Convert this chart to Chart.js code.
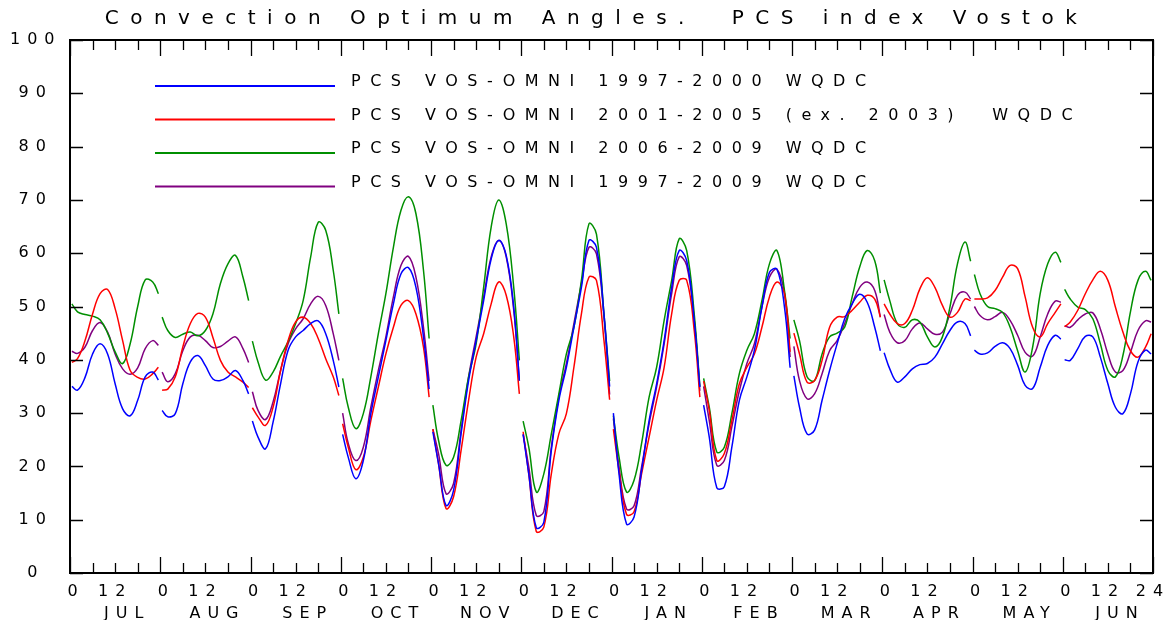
<!DOCTYPE html>
<html lang="en">
<head>
<meta charset="UTF-8">
<title>Convection Optimum Angles. PCS index Vostok</title>
<script src="https://cdn.jsdelivr.net/npm/chart.js"></script>
<style>
    body { margin: 0; background: #ffffff; }
    canvas { display: block; }
</style>
</head>
<body>
<canvas id="pcsChart" width="1173" height="620"></canvas>
<script>
// hours inside each month where the curve was read (UT hour)
const hours = [0.5, 2, 4, 6, 8, 10, 12, 14, 16, 18, 20, 22, 23.5];
const months = ['JUL', 'AUG', 'SEP', 'OCT', 'NOV', 'DEC', 'JAN', 'FEB', 'MAR', 'APR', 'MAY', 'JUN'];
const seriesNames = [
    'PCS VOS-OMNI 1997-2000 WQDC',
    'PCS VOS-OMNI 2001-2005 (ex. 2003)  WQDC',
    'PCS VOS-OMNI 2006-2009 WQDC',
    'PCS VOS-OMNI 1997-2009 WQDC'
];
const seriesColors = ['#0000ff', '#ff0000', '#008f00', '#800080'];

// one row per month, values at the hours above
const pcs1997_2000 = [
    [35, 34.3, 36.7, 41.1, 43, 41.1, 35.5, 30.8, 29.5, 32.4, 36.8, 37.7, 36.2],
    [30.5, 29.3, 29.9, 35.5, 39.6, 40.8, 38.9, 36.4, 36.1, 36.8, 38, 36.1, 33.6],
    [28.5, 25.5, 23.3, 28.3, 35.5, 41.8, 44.3, 45.5, 46.8, 47.3, 44.9, 39.9, 34.9],
    [26, 21.7, 17.7, 21.1, 29.9, 36.8, 43.6, 50.5, 56.1, 57.3, 53.6, 44.3, 34.5],
    [26.5, 20.5, 12.7, 15.5, 26.1, 36.1, 43.6, 51.1, 58.9, 62.4, 59.6, 49.9, 36.1],
    [26, 18.6, 8.5, 9.5, 23, 32.4, 38.6, 46.1, 53.6, 62.4, 61.1, 48.6, 35],
    [30, 18.6, 9.2, 10.5, 19.2, 28.6, 35.5, 43.6, 53.6, 60.5, 58.6, 47.4, 34.9],
    [31.5, 25.5, 16, 16.2, 23.6, 32.4, 36.8, 41.8, 49.9, 56.4, 57, 49.9, 38.5],
    [37, 31.1, 26.1, 26.8, 32.4, 38, 43, 47.7, 50.5, 52.3, 50.8, 46.1, 41.7],
    [41.3, 38.3, 35.8, 36.8, 38.3, 39.1, 39.3, 40.5, 43, 45.5, 47.1, 46.8, 44.5],
    [41.8, 41.1, 41.3, 42.5, 43.2, 42.1, 39, 35.2, 34.6, 38.6, 42.7, 44.6, 43.9],
    [40, 39.9, 42.1, 44.4, 44.3, 40.5, 35.5, 31.1, 29.9, 33.6, 39.6, 41.8, 41.1]
];
const pcs2001_2005 = [
    [39.5, 40.2, 43.6, 48.6, 52.4, 53.2, 49.6, 43.6, 38, 36.7, 36.4, 37.4, 38.6],
    [34.3, 34.5, 36.8, 42.4, 46.8, 48.7, 48, 44.2, 39.9, 37.7, 36.8, 35.8, 34.8],
    [31, 29.3, 27.7, 31.1, 38, 43.6, 47.1, 48, 46.8, 44, 40.2, 36.8, 33.3],
    [28, 23.6, 19.4, 21.7, 28.6, 34.9, 41.1, 46.1, 50.2, 51.1, 48.6, 42.4, 33],
    [27, 20.5, 12.1, 14.3, 23, 32.4, 40.5, 44.9, 50.5, 54.6, 52.1, 44.3, 33.6],
    [26.5, 18.6, 7.8, 8.6, 18.6, 26.1, 29.9, 38.6, 48.6, 55.5, 54.9, 43.6, 32.5],
    [27, 19.2, 11, 11.5, 18.6, 25.5, 32.4, 38.6, 48.6, 54.9, 54.9, 45.5, 33],
    [36, 30.5, 21.1, 22.4, 28.6, 35.5, 38.6, 41.1, 46.1, 51.8, 54.6, 52.4, 41.5],
    [45, 41.1, 35.8, 36.1, 39.9, 46.1, 48, 48.1, 49.3, 50.8, 52.1, 51.4, 48],
    [50.5, 48.6, 46.8, 46.8, 49.3, 53.3, 55.4, 53.6, 50.2, 48, 48.9, 51.4, 51.1],
    [51.4, 51.4, 51.6, 53, 55.5, 57.7, 57.1, 51.8, 46.1, 44.3, 46.8, 48.9, 50.5],
    [46.2, 47.1, 49.3, 52.4, 55, 56.6, 54.9, 49.9, 45.2, 41.7, 40.5, 42.4, 44.9]
];
const pcs2006_2009 = [
    [50.5, 49, 48.5, 48.2, 47.5, 45, 41.5, 39.3, 43, 50, 55, 54.6, 52.4],
    [48, 45.5, 44.2, 44.8, 45.2, 44.5, 45.5, 48.6, 54.3, 58, 59.6, 55.5, 51.1],
    [43.5, 39.6, 36.2, 37.7, 40.7, 43.4, 46.8, 51.1, 59.3, 65.8, 64.3, 56.8, 48.6],
    [36.5, 31.1, 27.1, 29.9, 36.8, 44.9, 52.4, 61.1, 68, 70.6, 67.4, 56.8, 44],
    [31.5, 24.9, 20.2, 21.7, 28.6, 36.8, 43, 53.6, 64.9, 70, 65.5, 53.6, 39.9],
    [28.5, 23.6, 15.2, 18.6, 26.1, 33.6, 41.1, 46.1, 54.9, 65.5, 63.6, 48.6, 36],
    [29.5, 21.8, 15.2, 17.4, 24.3, 33, 38.6, 47.4, 54.9, 62.7, 60.5, 48.6, 35],
    [36.5, 31.1, 22.7, 23.6, 29.9, 37.4, 41.8, 44.9, 51.1, 58, 60.5, 53, 44],
    [47.5, 43.6, 36.8, 36.1, 41.1, 44.3, 45, 46.1, 51.8, 57.4, 60.5, 58.6, 52.5],
    [55, 51.1, 46.8, 46.1, 47.5, 47.1, 44.3, 42.4, 44.3, 49.9, 58, 62.1, 58.5],
    [56, 52.4, 50, 49.6, 48.9, 46.1, 41.7, 37.7, 42.4, 52.4, 58, 60.2, 58.3],
    [53.2, 51.4, 49.9, 49.4, 47.7, 43, 38, 36.8, 40.8, 49, 54.9, 56.6, 54.9]
];
const pcs1997_2009 = [
    [41.6, 41.2, 42.4, 45.5, 47, 45.2, 41.1, 38.3, 37.3, 38.5, 42.1, 43.6, 42.7],
    [37.7, 35.9, 37.4, 41.7, 44.3, 44.6, 43.6, 42.3, 42.5, 43.5, 44.3, 42.1, 39.5],
    [34, 30.5, 28.8, 32.1, 38, 43, 45.8, 47.7, 50.5, 51.9, 50.2, 44.9, 39.9],
    [30, 24.3, 21.1, 23.6, 31.1, 38, 44.3, 51.8, 57.7, 59.4, 55.5, 46.1, 36],
    [27, 22.4, 14.9, 16.8, 26.8, 36.8, 44.3, 51.8, 59.3, 62.4, 59.3, 49.3, 36.1],
    [26, 19.9, 10.8, 11.5, 23.6, 33, 39.3, 46.8, 54.3, 61.1, 59.9, 48, 33.5],
    [29, 19.9, 12, 12.6, 19.9, 28, 34.9, 43, 52.4, 59.3, 57.7, 47.4, 34.2],
    [35, 28.6, 20.2, 21.1, 27.4, 34.2, 39.3, 43, 49.9, 55.5, 57, 52.4, 40.5],
    [42.5, 36.1, 32.7, 33.6, 37.4, 41.7, 43.6, 46.8, 50.5, 53.6, 54.6, 53, 48],
    [48.5, 45.2, 43.2, 43.6, 45.8, 46.9, 45.8, 44.8, 45.2, 48.6, 52.1, 52.7, 51.4],
    [50, 48.3, 47.5, 48.1, 48.9, 47.4, 44.6, 41.4, 40.7, 44.3, 48.6, 51, 50.8],
    [46.4, 46.1, 47.5, 48.6, 48.8, 45.8, 41.1, 37.7, 38, 41.4, 45.5, 47.3, 47.1]
];
const allSeries = [pcs1997_2000, pcs2001_2005, pcs2006_2009, pcs1997_2009];

const fontName = '"DejaVu Sans", sans-serif';

// month rows -> x/y points, with a gap at every month boundary
function toPoints(rows) {
    const pts = [];
    rows.forEach((row, m) => {
        row.forEach((v, i) => pts.push({ x: m * 24 + hours[i], y: v }));
        pts.push({ x: m * 24 + 24, y: null });
    });
    return pts;
}

// frame with inward ticks, legend and title
const framePlugin = {
    id: 'frame',
    beforeDraw(chart) {
        chart.ctx.letterSpacing = '7px';
    },
    afterDraw(chart) {
        const ctx = chart.ctx;
        const a = chart.chartArea;
        const xs = chart.scales.x, ys = chart.scales.y;
        ctx.save();
        ctx.strokeStyle = '#000';
        ctx.lineWidth = 2;
        ctx.strokeRect(a.left, a.top, a.right - a.left, a.bottom - a.top);
        ctx.lineWidth = 1.3;
        ctx.beginPath();
        for (let h = 0; h <= 288; h += 6) {
            const px = Math.round(xs.getPixelForValue(h)) + 0.5;
            const len = h % 24 === 0 ? 16 : 10;
            ctx.moveTo(px, a.bottom); ctx.lineTo(px, a.bottom - len);
            ctx.moveTo(px, a.top); ctx.lineTo(px, a.top + len);
        }
        for (let v = 0; v <= 100; v += 10) {
            const py = Math.round(ys.getPixelForValue(v)) + 0.5;
            ctx.moveTo(a.left, py); ctx.lineTo(a.left + 13, py);
            ctx.moveTo(a.right, py); ctx.lineTo(a.right - 13, py);
        }
        ctx.stroke();

        // legend
        ctx.font = '16px ' + fontName;
        ctx.letterSpacing = '9.5px';
        ctx.textAlign = 'left';
        ctx.textBaseline = 'middle';
        seriesNames.forEach((name, i) => {
            const y = 86 + i * 33.5;
            ctx.strokeStyle = seriesColors[i];
            ctx.lineWidth = 2;
            ctx.beginPath();
            ctx.moveTo(155, y);
            ctx.lineTo(335, y);
            ctx.stroke();
            ctx.fillStyle = '#000';
            ctx.fillText(name, 351, y - 4);
        });

        // title
        ctx.font = '20px ' + fontName;
        ctx.letterSpacing = '11.5px';
        ctx.textAlign = 'center';
        ctx.fillText('Convection Optimum Angles.  PCS index Vostok', chart.width / 2 + 10, 19);
        ctx.restore();
    }
};

new Chart(document.getElementById('pcsChart'), {
    type: 'line',
    data: {
        datasets: allSeries.map((rows, i) => ({
            label: seriesNames[i],
            data: toPoints(rows),
            borderColor: seriesColors[i],
            borderWidth: 1.5,
            pointRadius: 0,
            tension: 0.4,
            spanGaps: false
        }))
    },
    options: {
        responsive: false,
        animation: false,
        devicePixelRatio: 1,
        layout: { padding: { top: 40, right: 20, left: 0, bottom: 0 } },
        plugins: {
            legend: { display: false },
            tooltip: { enabled: false },
            title: { display: false }
        },
        scales: {
            x: {
                type: 'linear',
                min: 0,
                max: 288,
                grid: { display: false, drawTicks: false },
                border: { display: false },
                afterFit: (s) => { s.height = 47; },
                ticks: {
                    stepSize: 12,
                    autoSkip: false,
                    maxRotation: 0,
                    padding: 8,
                    color: '#000',
                    font: { family: fontName, size: 16, lineHeight: 1.35 },
                    callback: (v) => {
                        if (v === 288) return ['24', ''];
                        if (v % 24 === 0) return [' 0', ''];
                        return ['12', '  ' + months[(v - 12) / 24]];
                    }
                }
            },
            y: {
                min: 0,
                max: 100,
                grid: { display: false, drawTicks: false },
                border: { display: false },
                afterFit: (s) => { s.width = 70; },
                ticks: {
                    stepSize: 10,
                    crossAlign: 'center',
                    padding: 19,
                    color: '#000',
                    font: { family: fontName, size: 16 }
                }
            }
        }
    },
    plugins: [framePlugin]
});
</script>
</body>
</html>
